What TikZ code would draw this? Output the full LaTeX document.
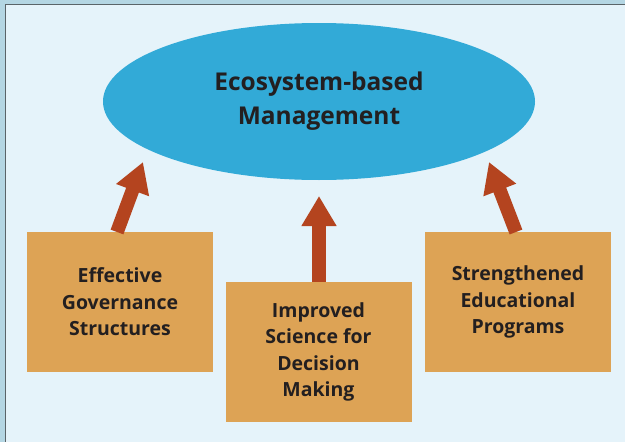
\documentclass[tikz,border=0pt]{standalone}
\usepackage{fontspec}
\setmainfont{Open Sans}
\usetikzlibrary{shapes.geometric,arrows.meta}
\definecolor{bandc}{HTML}{B4D6E3}
\definecolor{panelc}{HTML}{E5F3FA}
\definecolor{framec}{HTML}{5A6468}
\definecolor{ellc}{HTML}{32AAD7}
\definecolor{boxc}{HTML}{DDA355}
\definecolor{arrc}{HTML}{B4441F}
\definecolor{txtc}{HTML}{231F20}
\tikzset{
  factor/.style={fill=boxc, minimum width=186pt, minimum height=140pt, inner sep=0pt,
    align=center, text=txtc, font=\fontsize{19.5}{26.5}\selectfont\bfseries},
  bigarrow/.style={draw=arrc, line width=13.6pt, line cap=butt,
    -{Triangle[length=30pt, width=33pt]}},
}
\begin{document}
\begin{tikzpicture}[x=1pt,y=-1pt]
\useasboundingbox (0,0) rectangle (625,442);
\fill[bandc] (0,0) rectangle (625,442);
\fill[panelc] (5.5,4.5) rectangle (630,450);
\draw[framec, line width=1.3pt] (5.5,450) -- (5.5,4.5) -- (630,4.5);
\node[ellipse, fill=ellc, minimum width=432pt, minimum height=157pt, inner sep=0pt,
  align=center, text=txtc, font=\fontsize{24.5}{34}\selectfont\bfseries] (ebm) at (319,101.5)
  {Ecosystem-based\\Management};
\node[factor] (gov) at (120,302) {Effective\\Governance\\Structures};
\node[factor] (sci) at (318.5,352) {Improved\\Science for\\Decision\\Making};
\node[factor] (edu) at (518,302) {Strengthened\\Educational\\Programs};
\coordinate (a1s) at (117,232);
\coordinate (a1t) at (143,162);
\coordinate (a2s) at (319,282);
\coordinate (a2t) at (319,196);
\coordinate (a3s) at (516,232);
\coordinate (a3t) at (489,162);
\draw[bigarrow] (a1s) -- (a1t);
\draw[bigarrow] (a2s) -- (a2t);
\draw[bigarrow] (a3s) -- (a3t);
\end{tikzpicture}
\end{document}
